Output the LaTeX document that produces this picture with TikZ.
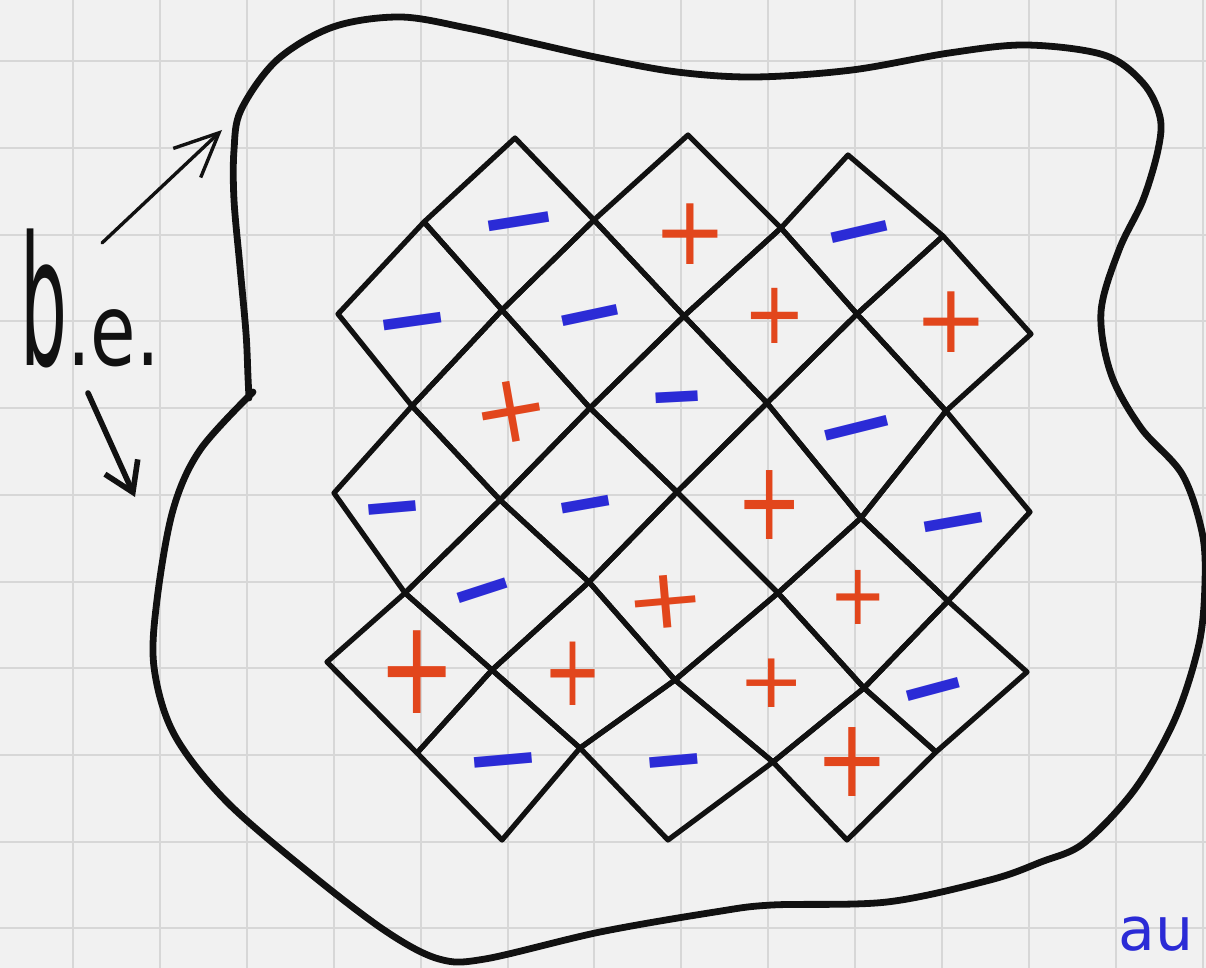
\documentclass[tikz,border=0pt]{standalone}
\usepackage{fontspec}
\usepackage{graphicx}
\usetikzlibrary{arrows.meta}
\newfontfamily\sgnfont{DejaVu Sans}
\definecolor{paper}{HTML}{F1F1F1}
\definecolor{gridc}{HTML}{D7D7D7}
\definecolor{plusred}{HTML}{E2461C}
\definecolor{minusblue}{HTML}{2B2BD6}
\definecolor{ink}{HTML}{111111}
\newcommand\plusat[5]{\node[plussign, rotate=#3, xscale=#4, yscale=#5] at (#1,#2) {+};}
\newcommand\minusat[4]{\node[minussign, rotate=#3, xscale=#4] at (#1,{#2+13}) {−};}
\begin{document}
\begin{tikzpicture}[x=0.5pt,y=-0.5pt,
  gridline/.style={gridc, line width=1pt},
  latt/.style={ink, line width=2.6pt, line cap=round, line join=round},
  outline/.style={ink, line width=3.4pt, line cap=round, line join=round},
  plussign/.style={plusred, inner sep=0pt, font=\sgnfont\fontsize{44}{44}\selectfont},
  minussign/.style={minusblue, inner sep=0pt, font=\sgnfont\bfseries\fontsize{46}{46}\selectfont},
  labeltext/.style={ink, inner sep=0pt, anchor=base west, yscale=1.35, font=\sgnfont\fontsize{37}{37}\selectfont},
  bluetext/.style={minusblue, inner sep=0pt, anchor=base west, font=\sgnfont\fontsize{30}{30}\selectfont},
  thinarrow/.style={ink, line width=1.7pt, line cap=round, -{Straight Barb[length=22pt,width=20pt,line width=1.7pt]}},
  thickarrow/.style={ink, line width=2.8pt, line cap=round, -{Straight Barb[length=14pt,width=18pt,line width=2.8pt]}}]
\useasboundingbox (0,0) rectangle (1206,968);
\clip (0,0) rectangle (1206,968);
\fill[paper] (0,0) rectangle (1206,968);
% squared paper
\foreach \k in {0,...,13} \draw[gridline] ({73+86.9*\k},0) -- ({73+86.9*\k},968);
\foreach \k in {0,...,10} \draw[gridline] (0,{61.3+86.7*\k}) -- (1206,{61.3+86.7*\k});

% outline blob
\draw[outline] plot[smooth, tension=0.55] coordinates {
 (249,398) (248,377) (246,333) (240,267) (234,200) (234,150) (241,110) (277,60)
 (333,27) (400,17) (467,28) (533,43) (600,58) (677,72) (755,77) (852,70) (949,53)
 (1026,45) (1104,55) (1143,83) (1160,117) (1158,150) (1143,200) (1119,250)
 (1101,312) (1111,374) (1141,428) (1182,474) (1202,532) (1205,582) (1199,644)
 (1175,719) (1135,789) (1084,843) (1041,862) (990,880) (887,902) (772,905)
 (715,912) (600,932) (485,959) (439,959) (387,932) (312,875) (226,801) (174,734)
 (154,667) (157,600) (173,510) (200,450) (253,392)};

% lattice vertices
\coordinate (r0c0) at (515,138); \coordinate (r0c1) at (688,135); \coordinate (r0c2) at (848,155);
\coordinate (r1c0) at (424,222); \coordinate (r1c1) at (594,220); \coordinate (r1c2) at (781,228); \coordinate (r1c3) at (943,236);
\coordinate (r2c0) at (338,314); \coordinate (r2c1) at (502,310); \coordinate (r2c2) at (684,316); \coordinate (r2c3) at (857,314); \coordinate (r2c4) at (1031,334);
\coordinate (r3c0) at (412,406); \coordinate (r3c1) at (590,408); \coordinate (r3c2) at (767,403); \coordinate (r3c3) at (946,411);
\coordinate (r4c0) at (334,493); \coordinate (r4c1) at (500,500); \coordinate (r4c2) at (677,492); \coordinate (r4c3) at (861,518); \coordinate (r4c4) at (1030,512);
\coordinate (r5c0) at (405,593); \coordinate (r5c1) at (589,582); \coordinate (r5c2) at (778,593); \coordinate (r5c3) at (948,601);
\coordinate (r6c0) at (327,662); \coordinate (r6c1) at (492,670); \coordinate (r6c2) at (675,680); \coordinate (r6c3) at (864,688); \coordinate (r6c4) at (1027,672);
\coordinate (r7c0) at (417,753); \coordinate (r7c1) at (580,748); \coordinate (r7c2) at (773,762); \coordinate (r7c3) at (936,752);
\coordinate (r8c0) at (502,840); \coordinate (r8c1) at (668,840); \coordinate (r8c2) at (847,840);

% diamond cells: top/right/bottom/left
\foreach \t/\r/\b/\l in {
 r0c0/r1c1/r2c1/r1c0, r0c1/r1c2/r2c2/r1c1, r0c2/r1c3/r2c3/r1c2,
 r1c0/r2c1/r3c0/r2c0, r1c1/r2c2/r3c1/r2c1, r1c2/r2c3/r3c2/r2c2, r1c3/r2c4/r3c3/r2c3,
 r2c1/r3c1/r4c1/r3c0, r2c2/r3c2/r4c2/r3c1, r2c3/r3c3/r4c3/r3c2,
 r3c0/r4c1/r5c0/r4c0, r3c1/r4c2/r5c1/r4c1, r3c2/r4c3/r5c2/r4c2, r3c3/r4c4/r5c3/r4c3,
 r4c1/r5c1/r6c1/r5c0, r4c2/r5c2/r6c2/r5c1, r4c3/r5c3/r6c3/r5c2,
 r5c0/r6c1/r7c0/r6c0, r5c1/r6c2/r7c1/r6c1, r5c2/r6c3/r7c2/r6c2, r5c3/r6c4/r7c3/r6c3,
 r6c1/r7c1/r8c0/r7c0, r6c2/r7c2/r8c1/r7c1, r6c3/r7c3/r8c2/r7c2}
 \draw[latt] (\t) -- (\r) -- (\b) -- (\l) -- cycle;

% plus signs
\plusat{690}{234}{0}{1.0}{1.1}
\plusat{775}{316}{0}{0.85}{1.0}
\plusat{951}{322}{0}{1.0}{1.1}
\plusat{511}{412}{10}{1.05}{1.1}
\plusat{770}{505}{0}{0.9}{1.25}
\plusat{666}{602}{5}{1.1}{0.95}
\plusat{858}{597}{0}{0.78}{0.98}
\plusat{417}{672}{0}{1.05}{1.5}
\plusat{573}{674}{0}{0.8}{1.15}
\plusat{772}{683}{0}{0.9}{0.88}
\plusat{852}{762}{0}{1.0}{1.25}

% minus signs
\minusat{521}{220}{9}{1.05}
\minusat{862}{230}{13}{0.97}
\minusat{414}{320}{8}{1.0}
\minusat{593}{314}{12}{0.97}
\minusat{678}{396}{3}{0.73}
\minusat{860}{427}{14}{1.1}
\minusat{393}{507}{5}{0.82}
\minusat{588}{503}{10}{0.82}
\minusat{955}{521}{10}{1.0}
\minusat{486}{589}{18}{0.87}
\minusat{936}{688}{15}{0.92}
\minusat{504}{759}{5}{1.0}
\minusat{675}{760}{5}{0.83}

% label and arrows
\node[labeltext] (be) at (20,366) {\scalebox{1}[1.8]{b}.e.};
\coordinate (u0) at (102,243); \coordinate (u1) at (222,130);
\coordinate (d0) at (88,393); \coordinate (d1) at (135,497);
\draw[thinarrow] (u0) -- (u1);
\draw[thickarrow] (d0) -- (d1);

% blue note at the lower edge
\node[bluetext] (note) at (1118,950) {au};
\end{tikzpicture}
\end{document}
